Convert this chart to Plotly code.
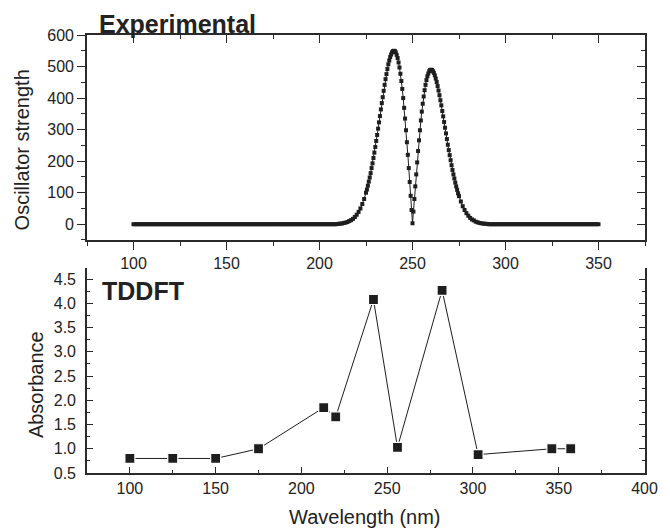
import plotly.graph_objects as go

# ---------------- Experimental spectrum (top panel) ----------------
base_left_wl = list(range(100, 210))
base_left_val = [0, 0, 0, 0, 0, 0, 0, 0, 0, 0,
                 0, 0, 0, 0, 0, 0, 0, 0, 0, 0,
                 0, 0, 0, 0, 0, 0, 0, 0, 0, 0,
                 0, 0, 0, 0, 0, 0, 0, 0, 0, 0,
                 0, 0, 0, 0, 0, 0, 0, 0, 0, 0,
                 0, 0, 0, 0, 0, 0, 0, 0, 0, 0,
                 0, 0, 0, 0, 0, 0, 0, 0, 0, 0,
                 0, 0, 0, 0, 0, 0, 0, 0, 0, 0,
                 0, 0, 0, 0, 0, 0, 0, 0, 0, 0,
                 0, 0, 0, 0, 0, 0, 0, 0, 0, 0,
                 0, 0, 0, 0, 0, 0, 0, 0, 0, 0]

peak_wl = [210, 211, 212, 213, 214, 215, 216, 217, 218, 219,
           220, 221, 222, 223, 224,
           225, 225.5, 226, 226.5, 227, 227.5, 228, 228.5, 229, 229.5,
           230, 230.5, 231, 231.5, 232, 232.5, 233, 233.5, 234, 234.5,
           235, 235.5, 236, 236.5, 237, 237.5, 238, 238.5, 239, 239.5,
           240, 240.5, 241, 241.5, 242, 242.5, 243, 243.5, 244, 244.5,
           245, 245.5, 246, 246.5, 247, 247.5, 248, 248.5, 249, 249.5,
           250, 250.5, 251, 251.5, 252, 252.5, 253, 253.5, 254, 254.5,
           255, 255.5, 256, 256.5, 257, 257.5, 258, 258.5, 259, 259.5,
           260, 260.5, 261, 261.5, 262, 262.5, 263, 263.5, 264, 264.5,
           265, 265.5, 266, 266.5, 267, 267.5, 268, 268.5, 269, 269.5,
           270, 270.5, 271, 271.5, 272, 272.5, 273, 273.5, 274, 274.5,
           275, 276, 277, 278, 279, 280, 281, 282, 283, 284,
           285, 286, 287, 288, 289, 290]
peak_val = [1, 2, 2, 4, 5, 7, 10, 13, 17, 23,
            30, 39, 50, 64, 80,
            100, 110, 122, 135, 148, 162, 178, 193, 210, 227,
            245, 264, 283, 303, 323, 343, 364, 384, 403, 423,
            442, 460, 476, 492, 507, 519, 530, 538, 545, 549,
            550, 549, 545, 537, 527, 513, 497, 477, 454, 429,
            400, 369, 335, 298, 260, 220, 178, 134, 90, 45,
            3, 40, 80, 120, 158, 196, 232, 266, 298, 329,
            357, 382, 405, 425, 442, 457, 469, 478, 485, 489,
            490, 489, 485, 480, 472, 462, 451, 438, 424, 409,
            393, 377, 359, 342, 324, 306, 288, 270, 252, 235,
            219, 203, 187, 172, 158, 145, 132, 120, 109, 98,
            89, 72, 57, 45, 35, 27, 20, 15, 12, 8,
            6, 4, 3, 2, 1.5, 1]

base_right_wl = list(range(291, 351))
base_right_val = [0, 0, 0, 0, 0, 0, 0, 0, 0, 0,
                  0, 0, 0, 0, 0, 0, 0, 0, 0, 0,
                  0, 0, 0, 0, 0, 0, 0, 0, 0, 0,
                  0, 0, 0, 0, 0, 0, 0, 0, 0, 0,
                  0, 0, 0, 0, 0, 0, 0, 0, 0, 0,
                  0, 0, 0, 0, 0, 0, 0, 0, 0, 0]

exp_wl = base_left_wl + peak_wl + base_right_wl
exp_val = base_left_val + peak_val + base_right_val

# ---------------- TDDFT (bottom panel) ----------------
tddft_wl = [100, 125, 150, 175, 213, 220, 242, 256, 282, 303, 346, 357]
tddft_abs = [0.80, 0.80, 0.80, 1.00, 1.85, 1.66, 4.08, 1.03, 4.27, 0.88, 1.00, 1.00]

INK = "#1e1e1e"
AX = "#2a2a2a"
FONT = "Liberation Sans, Arial, sans-serif"

fig = go.Figure()
fig.add_trace(go.Scatter(
    x=exp_wl, y=exp_val, mode="lines+markers", xaxis="x", yaxis="y",
    line=dict(color=INK, width=1),
    marker=dict(symbol="square", size=4, color=INK, line=dict(width=0)),
    showlegend=False, hoverinfo="skip"))
fig.add_trace(go.Scatter(
    x=[None], y=[None], xaxis="x3", yaxis="y3", showlegend=False, hoverinfo="skip"))
fig.add_trace(go.Scatter(
    x=tddft_wl, y=tddft_abs, mode="lines+markers", xaxis="x2", yaxis="y2",
    line=dict(color=INK, width=1),
    marker=dict(symbol="square", size=10, color=INK, line=dict(width=1.2, color="white")),
    showlegend=False, hoverinfo="skip"))

tick_font = dict(family=FONT, size=16, color="#222")
common = dict(showgrid=False, zeroline=False, showline=True, linecolor=AX, linewidth=1.6,
              tickcolor=AX, tickwidth=1.4, tickfont=tick_font)

# The page adds an 8 px body margin, so the figure is sized to fill the rest of the window.
fig.update_layout(
    width=662, height=522,
    margin=dict(l=79, r=13, t=27, b=57),
    paper_bgcolor="white", plot_bgcolor="white",
    font=dict(family=FONT, color="#222"),
    xaxis=dict(domain=[0, 1], anchor="y", range=[75, 375], tick0=0, dtick=50,
               ticks="outside", ticklen=8,
               minor=dict(dtick=25, ticks="outside", ticklen=4, tickcolor=AX, tickwidth=1.2),
               **common),
    yaxis=dict(domain=[0.532, 1], anchor="x", range=[-50, 600], tick0=0, dtick=100,
               ticks="outside", ticklen=8,
               minor=dict(dtick=50, ticks="outside", ticklen=4, tickcolor=AX, tickwidth=1.2),
               **common),
    xaxis3=dict(overlaying="x", anchor="y", side="top", range=[75, 375], tick0=0, dtick=50,
                ticks="inside", ticklen=8, showticklabels=False,
                minor=dict(dtick=25, ticks="inside", ticklen=4, tickcolor=AX, tickwidth=1.2),
                **common),
    yaxis3=dict(overlaying="y", anchor="x", side="right", range=[-50, 600], tick0=0, dtick=100,
                ticks="inside", ticklen=8, showticklabels=False,
                minor=dict(dtick=50, ticks="inside", ticklen=4, tickcolor=AX, tickwidth=1.2),
                **common),
    xaxis2=dict(domain=[0, 1], anchor="y2", range=[75, 400.3], tick0=0, dtick=50,
                ticks="inside", ticklen=6,
                minor=dict(dtick=25, ticks="inside", ticklen=3, tickcolor=AX, tickwidth=1.2),
                **common),
    yaxis2=dict(domain=[0, 0.468], anchor="x2", range=[0.5, 4.73], tick0=0.5, dtick=0.5,
                tickformat=".1f", ticks="inside", ticklen=6, mirror="ticks",
                ticklabelstandoff=6,
                minor=dict(dtick=0.25, ticks="inside", ticklen=3, tickcolor=AX, tickwidth=1.2),
                **common),
)

ann_font = dict(family=FONT, size=20, color="#222")
bold_font = dict(family=FONT, size=25, color="#222")
fig.add_annotation(text="<b>Experimental</b>", xref="paper", yref="paper",
                   x=0.0175, y=1.024, xanchor="left", yanchor="middle",
                   showarrow=False, font=bold_font)
fig.add_annotation(text="<b>TDDFT</b>", xref="paper", yref="paper",
                   x=0.0228, y=0.4155, xanchor="left", yanchor="middle",
                   showarrow=False, font=bold_font)
fig.add_annotation(text="Oscillator strength", xref="paper", yref="paper",
                   x=-0.1158, y=0.7374, xanchor="center", yanchor="middle", textangle=-90,
                   showarrow=False, font=ann_font)
fig.add_annotation(text="Absorbance", xref="paper", yref="paper",
                   x=-0.0912, y=0.2009, xanchor="center", yanchor="middle", textangle=-90,
                   showarrow=False, font=ann_font)
fig.add_annotation(text="Wavelength (nm)", xref="paper", yref="paper",
                   x=0.498, y=-0.1005, xanchor="center", yanchor="middle",
                   showarrow=False, font=ann_font)

fig.write_html("out.html")
